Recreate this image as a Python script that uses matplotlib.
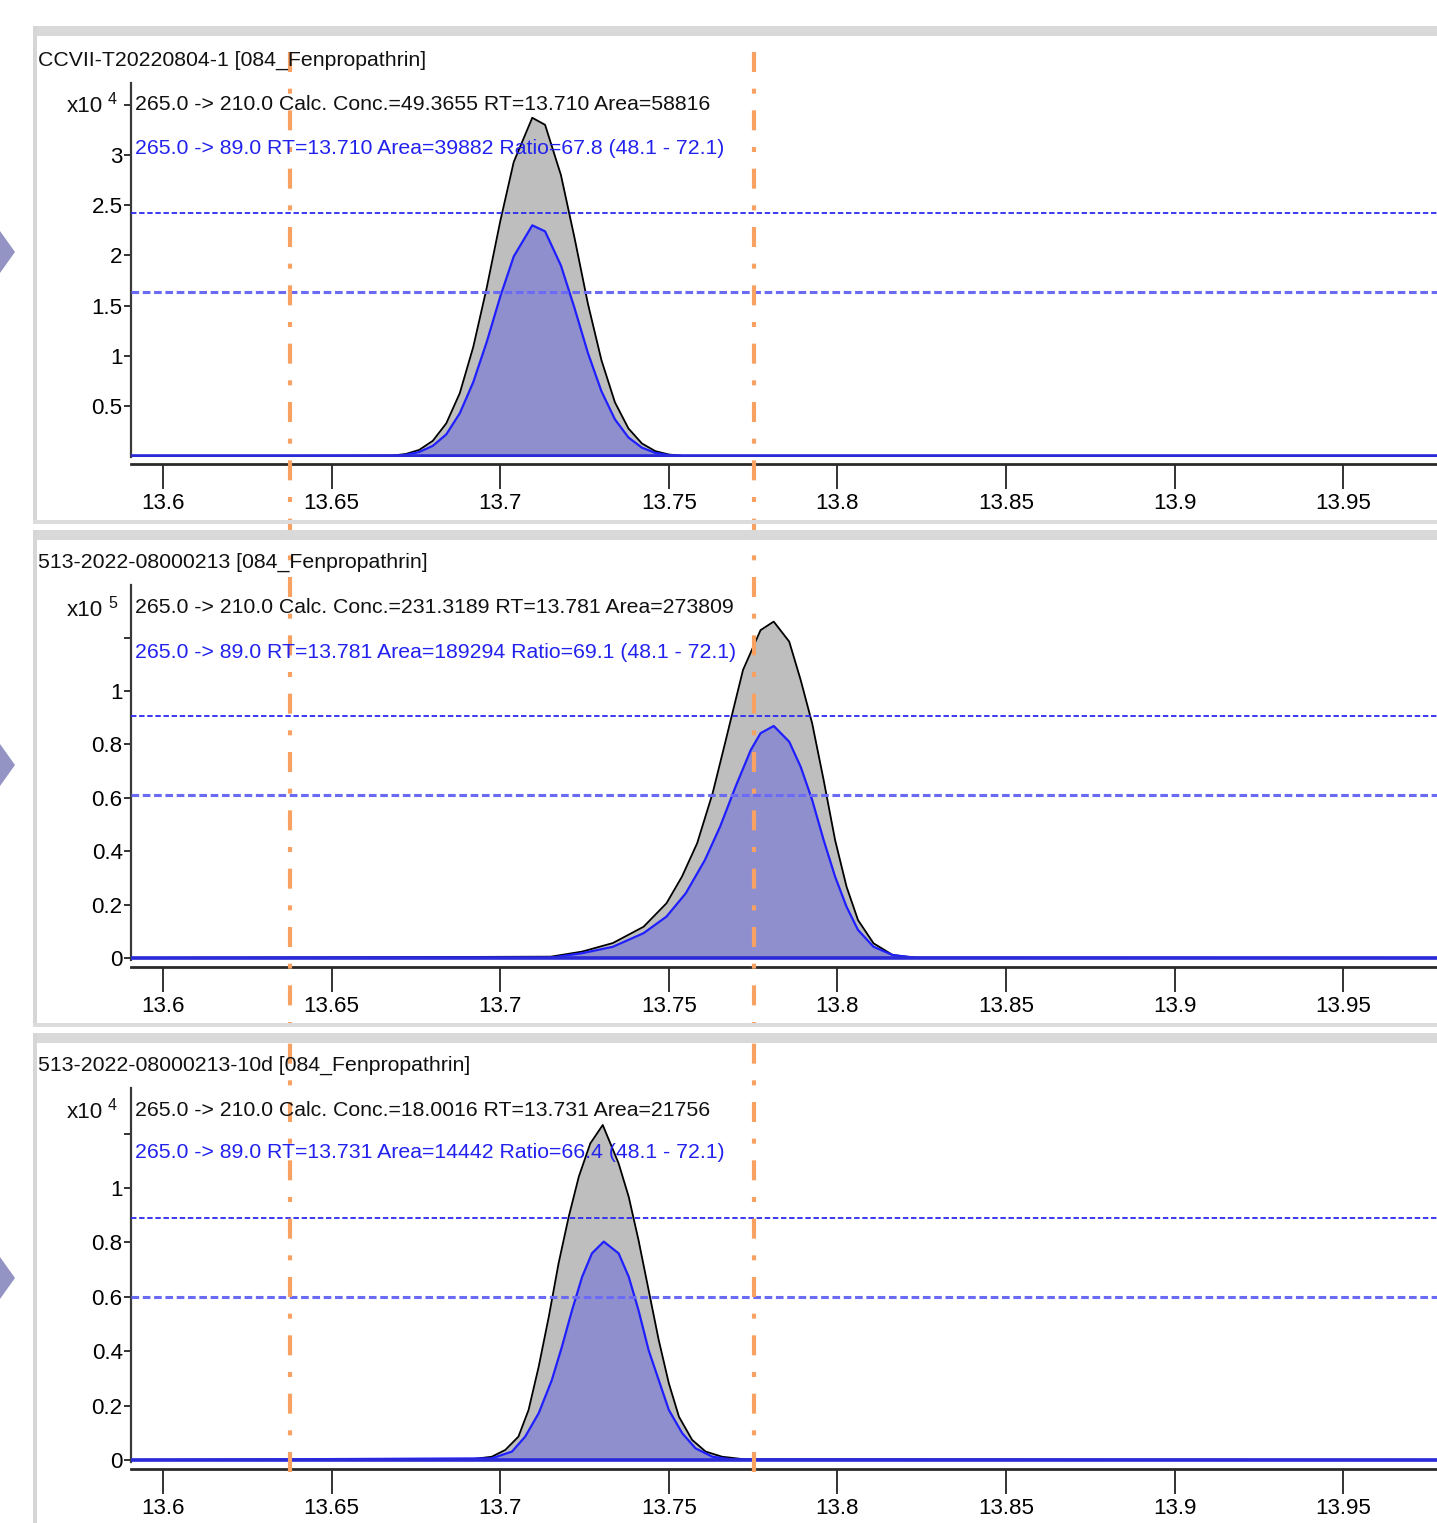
import matplotlib
matplotlib.use("Agg")
import matplotlib.pyplot as plt
from matplotlib.patches import Rectangle, Polygon

W, H = 1437, 1523
DPI = 100
FONT = ['Liberation Sans Narrow', 'Liberation Sans', 'DejaVu Sans']
plt.rcParams['font.family'] = FONT

# ---------------- data ----------------
titles = ["CCVII-T20220804-1 [084_Fenpropathrin]",
          "513-2022-08000213 [084_Fenpropathrin]",
          "513-2022-08000213-10d [084_Fenpropathrin]"]
quant_labels = ["265.0 -> 210.0 Calc. Conc.=49.3655 RT=13.710 Area=58816",
                "265.0 -> 210.0 Calc. Conc.=231.3189 RT=13.781 Area=273809",
                "265.0 -> 210.0 Calc. Conc.=18.0016 RT=13.731 Area=21756"]
qual_labels = ["265.0 -> 89.0 RT=13.710 Area=39882 Ratio=67.8 (48.1 - 72.1)",
               "265.0 -> 89.0 RT=13.781 Area=189294 Ratio=69.1 (48.1 - 72.1)",
               "265.0 -> 89.0 RT=13.731 Area=14442 Ratio=66.4 (48.1 - 72.1)"]
exponents = ["4", "5", "4"]

x_ticks = [13.6, 13.65, 13.7, 13.75, 13.8, 13.85, 13.9, 13.95]
x_tick_labels = ["13.6", "13.65", "13.7", "13.75", "13.8", "13.85", "13.9", "13.95"]
x_range = [13.5905, 13.9778]

y_ticks_1 = [0.5, 1.0, 1.5, 2.0, 2.5, 3.0, 3.5]
y_tick_labels_1 = ["0.5", "1", "1.5", "2", "2.5", "3", ""]
y_ticks_23 = [0.0, 0.2, 0.4, 0.6, 0.8, 1.0, 1.2]
y_tick_labels_23 = ["0", "0.2", "0.4", "0.6", "0.8", "1", ""]
y_ranges = [[-0.005, 3.716], [-0.0075, 1.397], [-0.0074, 1.368]]

integration_marks = [13.6377, 13.7753]

# panel 1 (x10^4)
rt_q1 = [13.590, 13.668, 13.672, 13.676, 13.680, 13.684, 13.688, 13.692, 13.696, 13.700,
         13.704, 13.7095, 13.7133, 13.718, 13.722, 13.726, 13.730, 13.734, 13.738, 13.742,
         13.746, 13.750, 13.754, 13.980]
ab_q1 = [0, 0.009, 0.025, 0.066, 0.156, 0.33, 0.63, 1.09, 1.68, 2.34,
         2.93, 3.37, 3.30, 2.80, 2.18, 1.52, 0.96, 0.54, 0.28, 0.13,
         0.053, 0.02, 0.006, 0]
rt_b1 = rt_q1
ab_b1 = [0, 0.006, 0.017, 0.045, 0.106, 0.22, 0.43, 0.74, 1.14, 1.59,
         1.99, 2.30, 2.24, 1.90, 1.48, 1.03, 0.65, 0.37, 0.19, 0.088,
         0.036, 0.014, 0.004, 0]
limits_1 = [2.42, 1.64]

# panel 2 (x10^5)
rt_q2 = [13.590, 13.715, 13.7243, 13.7334, 13.7425, 13.7493, 13.7539, 13.7584, 13.763, 13.7664,
         13.7698, 13.772, 13.7772, 13.7811, 13.7857, 13.7891, 13.7925, 13.7959, 13.7993, 13.8027,
         13.8061, 13.8107, 13.8164, 13.8232, 13.980]
ab_q2 = [0, 0.005, 0.024, 0.056, 0.117, 0.205, 0.305, 0.43, 0.618, 0.791,
         0.966, 1.079, 1.228, 1.26, 1.185, 1.041, 0.879, 0.667, 0.442, 0.267,
         0.142, 0.055, 0.011, 0.001, 0]
rt_b2 = [13.590, 13.715, 13.7243, 13.7334, 13.7425, 13.7493, 13.755, 13.7607, 13.7652, 13.7698,
         13.7743, 13.7772, 13.7811, 13.7857, 13.7891, 13.7925, 13.7959, 13.7993, 13.8027, 13.8061,
         13.8107, 13.8164, 13.8232, 13.980]
ab_b2 = [0, 0.001, 0.018, 0.042, 0.093, 0.155, 0.242, 0.367, 0.492, 0.642,
         0.779, 0.842, 0.869, 0.81, 0.716, 0.592, 0.442, 0.305, 0.192, 0.105,
         0.042, 0.011, 0.001, 0]
limits_2 = [0.906, 0.610]

# panel 3 (x10^4)
rt_q3 = [13.590, 13.6896, 13.6975, 13.7015, 13.7054, 13.7084, 13.7114, 13.7144, 13.7173, 13.7203,
         13.7233, 13.7267, 13.7304, 13.7351, 13.7381, 13.741, 13.744, 13.747, 13.750, 13.753,
         13.7569, 13.7609, 13.7658, 13.7728, 13.980]
ab_q3 = [0, 0.0, 0.012, 0.037, 0.086, 0.184, 0.343, 0.527, 0.723, 0.894,
         1.042, 1.164, 1.232, 1.091, 0.968, 0.809, 0.625, 0.441, 0.282, 0.159,
         0.074, 0.031, 0.012, 0.002, 0]
rt_b3 = [13.590, 13.6975, 13.7035, 13.7074, 13.7114, 13.7153, 13.7183, 13.7213, 13.7243, 13.7272,
         13.7307, 13.7351, 13.7381, 13.741, 13.744, 13.747, 13.750, 13.754, 13.7579, 13.7629,
         13.7688, 13.980]
ab_b3 = [0, 0.006, 0.031, 0.086, 0.172, 0.294, 0.417, 0.551, 0.674, 0.76,
         0.803, 0.76, 0.674, 0.551, 0.404, 0.294, 0.184, 0.098, 0.043, 0.012,
         0.002, 0]
limits_3 = [0.889, 0.600]

panels = [
    (rt_q1, ab_q1, rt_b1, ab_b1, limits_1, y_ticks_1, y_tick_labels_1),
    (rt_q2, ab_q2, rt_b2, ab_b2, limits_2, y_ticks_23, y_tick_labels_23),
    (rt_q3, ab_q3, rt_b3, ab_b3, limits_3, y_ticks_23, y_tick_labels_23),
]

# ---------------- layout (pixels) ----------------
ax_left_px = 131
ax_boxes_px = [(83, 457), (585, 960), (1088, 1462)]   # (top, bottom)
title_y = [60, 562, 1065]
line1_y = [104, 608, 1111]
line2_y = [149, 652, 1153]
x10_y = [106, 610, 1112]
frame_tops = [26, 530, 1033]
frame_bottoms = [524, 1027, 1530]
arrow_y = [252, 765, 1278]


def fx(px):
    return px / W


def fy(py):
    return 1 - py / H


fig = plt.figure(figsize=(W / DPI, H / DPI), dpi=DPI)
fig.patch.set_facecolor('white')

# fit font size so that the long qualifier line spans ~590 px like the reference
renderer = fig.canvas.get_renderer()
probe = fig.text(0, 0, qual_labels[0], fontsize=20)
pw = probe.get_window_extent(renderer).width
probe.remove()
FS = 20 * 590.0 / pw

# panel frames (light grey borders) and left arrows
for t, b in zip(frame_tops, frame_bottoms):
    fig.patches.append(Rectangle((fx(33), fy(t + 10)), fx(1437 - 33) + 0.01, 10 / H,
                                 transform=fig.transFigure, facecolor='#d9d9d9',
                                 edgecolor='none', zorder=0))
    fig.patches.append(Rectangle((fx(33), fy(b)), 4 / W, (b - t) / H,
                                 transform=fig.transFigure, facecolor='#d6d6d6',
                                 edgecolor='none', zorder=0))
    fig.patches.append(Rectangle((fx(33), fy(b)), fx(1437 - 33) + 0.01, 4 / H,
                                 transform=fig.transFigure, facecolor='#dcdcdc',
                                 edgecolor='none', zorder=0))
for ay in arrow_y:
    fig.patches.append(Polygon([(fx(-10), fy(ay - 35)), (fx(15), fy(ay)), (fx(-10), fy(ay + 35))],
                               closed=True, transform=fig.transFigure,
                               facecolor='#9494c4', edgecolor='none', zorder=0))

black_fill = '#bebebe'
blue_fill = '#8f8fce'
blue_line = '#1f1fff'

for i, (rq, aq, rb, ab, lims, yt, ytl) in enumerate(panels):
    top, bot = ax_boxes_px[i]
    ax = fig.add_axes([fx(ax_left_px), fy(bot), fx(W - ax_left_px), (bot - top) / H])
    ax.set_facecolor('none')
    ax.fill_between(rq, aq, 0, color=black_fill, lw=0, zorder=1)
    ax.plot(rq, aq, color='black', lw=1.3, zorder=2)
    ax.fill_between(rb, ab, 0, color=blue_fill, lw=0, zorder=3)
    ax.plot(rb, ab, color=blue_line, lw=1.6, zorder=4)
    ax.axhline(0, color='#2a2ad8', lw=2.6, zorder=4)
    ax.axhline(lims[0], color='#2b2bf0', lw=1.3, ls=(0, (3, 1.5)), zorder=5)
    ax.axhline(lims[1], color='#6a6af5', lw=2.2, ls=(0, (2.5, 1.2)), zorder=5)

    ax.set_xlim(x_range)
    ax.set_ylim(y_ranges[i])
    ax.set_xticks(x_ticks)
    ax.set_xticklabels(x_tick_labels)
    ax.set_yticks(yt)
    ax.set_yticklabels(ytl)
    for s in ['top', 'right']:
        ax.spines[s].set_visible(False)
    ax.spines['left'].set_color('#3a3a3a')
    ax.spines['left'].set_linewidth(1.6)
    ax.spines['bottom'].set_color('#2a2a2a')
    ax.spines['bottom'].set_linewidth(2.0)
    ax.spines['bottom'].set_position(('outward', 5))
    ax.tick_params(axis='x', direction='out', length=18, width=1.4, color='#333333',
                   labelsize=FS * 1.05, pad=3)
    ax.tick_params(axis='y', direction='out', length=5, width=1.4, color='#333333',
                   labelsize=FS * 1.05, pad=1)

    fig.text(fx(38), fy(title_y[i]), titles[i], ha='left', va='center', fontsize=FS, color='#111111')
    fig.text(fx(135), fy(line1_y[i]), quant_labels[i], ha='left', va='center', fontsize=FS, color='#111111')
    fig.text(fx(135), fy(line2_y[i]), qual_labels[i], ha='left', va='center', fontsize=FS, color='#2222ee')
    fig.text(fx(103), fy(x10_y[i]), "x10", ha='right', va='center', fontsize=FS * 1.05, color='#111111')
    fig.text(fx(108), fy(x10_y[i] - 7), exponents[i], ha='left', va='center', fontsize=FS * 0.75, color='#111111')

# integration limits: orange dash-dot lines spanning all panels
ov = fig.add_axes([fx(ax_left_px), fy(1472), fx(W - ax_left_px), (1472 - 45) / H])
ov.set_xlim(x_range)
ov.set_ylim(0, 1)
ov.axis('off')
ov.patch.set_alpha(0)
for xm in integration_marks:
    ov.axvline(xm, color='#f7a263', lw=3.0, ls=(0, (4.8, 4.0, 1.2, 4.0)), zorder=10)

fig.savefig('out.png', dpi=DPI)
